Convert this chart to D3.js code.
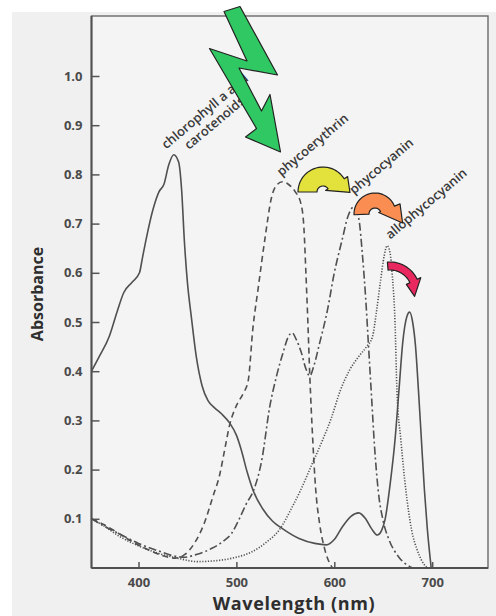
<!DOCTYPE html>
<html lang="en">
<head>
<meta charset="UTF-8">
<title>Absorbance of photosynthetic pigments</title>
<script src="https://d3js.org/d3.v7.min.js"></script>
<style>
    body { margin: 0; background: #fff; }
    svg { display: block; }
    .tick text { font-family: "Open Sans", sans-serif; font-weight: 700; font-size: 13px; fill: #4a4a4a; }
    .tick line { stroke: #555; stroke-width: 1.5px; }
    .curve { fill: none; stroke: #505050; stroke-width: 1.6px; }
    .peak-label { font-family: "Open Sans", sans-serif; font-weight: 600; font-size: 13px; fill: #3a3a3a; }
    .axis-title { font-family: "Open Sans", sans-serif; font-weight: 700; fill: #2e2e2e; }
    .arrow { stroke: #222; stroke-width: 1.2px; stroke-linejoin: round; }
</style>
</head>
<body>
<script>
const width = 496, height = 616;

// tick values
const wavelengthTicks = [400, 500, 600, 700];
const absorbanceTicks = [0.1, 0.2, 0.3, 0.4, 0.5, 0.6, 0.7, 0.8, 0.9, 1.0];

// absorbance spectra: [wavelength nm, absorbance]
const chlorophyll = [[352,0.40],[360,0.43],[370,0.47],[378,0.52],[385,0.56],[393,0.58],[401,0.60],[404,0.63],[408,0.67],[415,0.73],[421,0.765],[426,0.78],[431,0.82],[436,0.84],[441,0.825],[444,0.77],[447,0.66],[450,0.58],[454,0.51],[459,0.43],[465,0.37],[471,0.34],[478,0.325],[485,0.313],[493,0.295],[500,0.27],[505,0.24],[511,0.195],[517,0.158],[527,0.12],[537,0.095],[547,0.08],[564,0.06],[580,0.05],[592,0.047],[600,0.058],[608,0.083],[617,0.105],[625,0.112],[632,0.1],[638,0.08],[644,0.067],[648,0.075],[652,0.1],[657,0.17],[662,0.26],[666,0.36],[670,0.46],[674,0.51],[677,0.52],[680,0.5],[683,0.45],[686,0.36],[689,0.26],[692,0.16],[695,0.08],[699,0]];
const phycoerythrin = [[352,0.10],[365,0.088],[380,0.07],[395,0.052],[410,0.037],[425,0.025],[437,0.02],[447,0.027],[457,0.05],[467,0.09],[476,0.145],[483,0.19],[488,0.24],[493,0.29],[500,0.33],[507,0.355],[512,0.38],[517,0.49],[522,0.565],[529,0.667],[536,0.754],[541,0.778],[547,0.785],[553,0.78],[560,0.765],[566,0.74],[569,0.69],[571,0.6],[573,0.5],[575,0.39],[578,0.26],[581,0.16],[585,0.09],[590,0.04],[598,0]];
const phycocyanin = [[352,0.10],[365,0.085],[380,0.07],[400,0.05],[420,0.035],[435,0.025],[447,0.022],[460,0.028],[475,0.04],[487,0.055],[495,0.07],[503,0.1],[510,0.13],[518,0.16],[526,0.22],[534,0.327],[541,0.39],[548,0.44],[553,0.47],[557,0.478],[561,0.465],[566,0.44],[571,0.405],[575,0.39],[579,0.41],[585,0.457],[593,0.524],[600,0.6],[608,0.667],[614,0.715],[620,0.734],[625,0.71],[629,0.63],[632,0.55],[635,0.45],[638,0.35],[641,0.25],[645,0.155],[650,0.095],[656,0.057],[666,0.022],[680,0]];
const allophycocyanin = [[352,0.10],[365,0.085],[380,0.065],[400,0.045],[420,0.03],[440,0.02],[460,0.013],[480,0.015],[500,0.022],[515,0.032],[531,0.053],[544,0.078],[557,0.124],[566,0.16],[577,0.21],[588,0.26],[597,0.305],[606,0.36],[615,0.4],[625,0.43],[633,0.45],[639,0.47],[643,0.52],[647,0.58],[651,0.635],[654,0.655],[657,0.64],[659,0.6],[662,0.5],[664,0.36],[668,0.26],[673,0.16],[679,0.077],[685,0.035],[689,0.016],[695,0]];

const series = [
    { name: "chlorophyll", values: chlorophyll, dash: null },
    { name: "phycoerythrin", values: phycoerythrin, dash: "6,4" },
    { name: "phycocyanin", values: phycocyanin, dash: "8,3,2,3" },
    { name: "allophycocyanin", values: allophycocyanin, dash: "1.2,1.6" }
];

const margin = { left: 91.5, right: 8, top: 16, bottom: 48 };
const x = d3.scaleLinear().domain([352, 757]).range([margin.left, width - margin.right]);
const y = d3.scaleLinear().domain([0, 1]).range([height - margin.bottom, 76]);

const svg = d3.select("body").append("svg")
    .attr("width", width)
    .attr("height", height);

// scanned page tone
svg.append("rect")
    .attr("x", 12).attr("y", 12)
    .attr("width", width - 12).attr("height", height - 12)
    .attr("fill", "#f0f0f0");

// frame
svg.append("rect")
    .attr("x", margin.left).attr("y", margin.top)
    .attr("width", width - margin.right - margin.left)
    .attr("height", height - margin.bottom - margin.top)
    .attr("fill", "#f4f4f4")
    .attr("stroke", "#6a6a6a")
    .attr("stroke-width", 1.4);

// axes with inward ticks
const yAxis = svg.append("g")
    .attr("transform", `translate(${margin.left},0)`)
    .call(d3.axisLeft(y).tickValues(absorbanceTicks).tickFormat(d3.format(".1f")).tickSize(-8).tickPadding(9));
yAxis.select(".domain").remove();

const xAxis = svg.append("g")
    .attr("transform", `translate(0,${height - margin.bottom})`)
    .call(d3.axisBottom(x).tickValues(wavelengthTicks).tickSize(-6).tickPadding(10));
xAxis.select(".domain").remove();

// left and bottom axis lines heavier
svg.append("line")
    .attr("x1", margin.left).attr("x2", margin.left)
    .attr("y1", margin.top).attr("y2", height - margin.bottom)
    .attr("stroke", "#505050").attr("stroke-width", 2);
svg.append("line")
    .attr("x1", margin.left).attr("x2", width - margin.right)
    .attr("y1", height - margin.bottom).attr("y2", height - margin.bottom)
    .attr("stroke", "#505050").attr("stroke-width", 2);

// curves
const line = d3.line()
    .x(d => x(d[0]))
    .y(d => y(d[1]))
    .curve(d3.curveMonotoneX);

svg.selectAll(".curve")
    .data(series)
    .enter()
    .append("path")
    .attr("class", "curve")
    .attr("d", d => line(d.values))
    .attr("stroke-dasharray", d => d.dash)
    .attr("stroke", d => d.name === "allophycocyanin" ? "#6a6a6a" : "#505050")
    .attr("stroke-width", d => d.name === "allophycocyanin" ? 1.3 : 1.6);

// axis titles
svg.append("text")
    .attr("class", "axis-title")
    .attr("x", 294).attr("y", 610)
    .attr("text-anchor", "middle")
    .attr("font-size", 18)
    .attr("letter-spacing", 0.6)
    .text("Wavelength (nm)");

svg.append("text")
    .attr("class", "axis-title")
    .attr("transform", "translate(43,294) rotate(-90)")
    .attr("text-anchor", "middle")
    .attr("font-size", 16)
    .text("Absorbance");

// peak labels, anchored to each curve's maximum
function peak(values) {
    return values.reduce((a, b) => (b[1] > a[1] ? b : a));
}

const chlPeak = peak(chlorophyll);
const chlLabel = svg.append("text")
    .attr("class", "peak-label")
    .attr("text-anchor", "middle")
    .attr("transform", `translate(${x(chlPeak[0]) + 34},${y(chlPeak[1]) - 40}) rotate(-40)`);
chlLabel.append("tspan").attr("x", 0).attr("dy", 0).text("chlorophyll a and");
chlLabel.append("tspan").attr("x", 0).attr("dy", 15).text("carotenoids");

const singleLabels = [
    { text: "phycoerythrin", values: phycoerythrin, dx: -1, dy: -5 },
    { text: "phycocyanin", values: phycocyanin, dx: 0, dy: -12 },
    { text: "allophycocyanin", values: allophycocyanin, dx: 3, dy: -6 }
];
svg.selectAll(".single-label")
    .data(singleLabels)
    .enter()
    .append("text")
    .attr("class", "peak-label")
    .attr("transform", d => {
        const p = peak(d.values);
        return `translate(${x(p[0]) + d.dx},${y(p[1]) + d.dy}) rotate(-40)`;
    })
    .text(d => d.text);

// light bolt
const bolt = [[224,11.5],[240,6.5],[277.5,75],[239,68],[261.5,111],[270,94.5],[280.5,152],[245.5,137],[256.5,128.5],[209.5,48.5],[247,61]];
svg.append("path")
    .attr("class", "arrow")
    .attr("d", d3.line()(bolt) + "Z")
    .attr("fill", "#30c862");

// curved energy-transfer arrows
function polar(cx, cy, r, a) {
    const t = a * Math.PI / 180;
    return [cx + r * Math.cos(t), cy - r * Math.sin(t)];
}
function curvedArrow(o) {
    const pts = [];
    const steps = 24;
    for (let i = 0; i <= steps; i++) {
        pts.push(polar(o.cx, o.cy, o.rOut, o.a0 + (o.a1 - o.a0) * i / steps));
    }
    pts.push(polar(o.cx, o.cy, o.rOut + o.barbOut, o.a1));
    pts.push(polar(o.cx, o.cy, o.tipR, o.tipA));
    pts.push(polar(o.cx, o.cy, o.rIn - o.barbIn, o.a1));
    for (let i = steps; i >= 0; i--) {
        pts.push(polar(o.cx, o.cy, o.rIn, o.a0 + (o.a1 - o.a0) * i / steps));
    }
    svg.append("path")
        .attr("class", "arrow")
        .attr("d", d3.line()(pts) + "Z")
        .attr("fill", o.fill);
}

curvedArrow({ cx: 323, cy: 192, rIn: 6, rOut: 25, a0: 180, a1: 32, barbOut: 4, barbIn: 3, tipR: 27, tipA: -1, fill: "#e3e23c" });
curvedArrow({ cx: 375, cy: 214, rIn: 6, rOut: 21, a0: 182, a1: 22, barbOut: 6, barbIn: 2, tipR: 29, tipA: -18, fill: "#fa8e52" });
curvedArrow({ cx: 390, cy: 292, rIn: 22, rOut: 30, a0: 95, a1: 25, barbOut: 4, barbIn: 4, tipR: 25, tipA: -10, fill: "#e8285e" });
</script>
</body>
</html>
